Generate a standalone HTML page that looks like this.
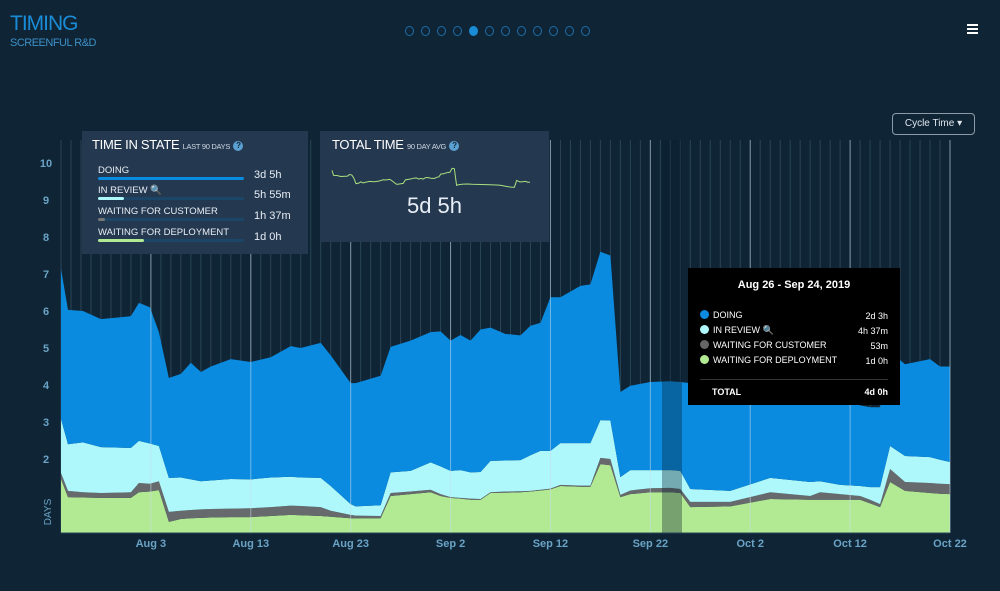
<!DOCTYPE html>
<html><head><meta charset="utf-8">
<style>
body{margin:0;width:1000px;height:591px;background:#0f2535;font-family:"Liberation Sans",sans-serif;overflow:hidden;position:relative}
.abs{position:absolute}
.panel{position:absolute;background:#243850;color:#fff}
.ttl{font-size:13px;letter-spacing:-0.3px}
.sub{font-size:7.5px;color:#cfd8e3}
.q{display:inline-block;width:10px;height:10px;border-radius:50%;background:#5aa0d0;color:#0f2535;font-size:8px;text-align:center;line-height:10px;font-weight:bold;vertical-align:1px}
.row{position:absolute;left:16px;font-size:9.5px;color:#e8eef5}
.val{position:absolute;left:172px;font-size:11px;color:#e8eef5}
.track{position:absolute;left:16px;width:146px;height:3px;background:#1c4668;border-radius:2px}
.tt{position:absolute;background:#000;color:#fff}
.ti{position:absolute;left:12px;font-size:9px}
.tv{position:absolute;right:12px;font-size:9px}
.dot{display:inline-block;width:9px;height:9px;border-radius:50%;margin-right:4px;vertical-align:-1px}
</style></head><body>
<div class="abs" style="left:10px;top:12px;font-size:21px;color:#1a8bd6;letter-spacing:-1px">TIMING</div>
<div class="abs" style="left:10px;top:37px;font-size:11px;color:#3d90c8;letter-spacing:-0.5px">SCREENFUL R&amp;D</div>
<div class="abs" style="left:405px;top:26px;height:12px;width:190px" id="dots"></div>
<div class="abs" style="left:967px;top:24px;width:11px">
<div style="height:2px;background:#fff;margin-bottom:2px"></div><div style="height:2px;background:#fff;margin-bottom:2px"></div><div style="height:2px;background:#fff"></div></div>
<div class="abs" style="left:892px;top:113px;width:81px;height:20px;border:1px solid #8a9aa8;border-radius:4px;color:#e0e6ee;font-size:10px;line-height:20px;text-align:center">Cycle Time ▾</div>

<svg class="abs" style="left:0;top:0" width="1000" height="591" id="chart"></svg>

<div class="panel" style="left:82px;top:131px;width:226px;height:123px">
<div class="abs ttl" style="left:10px;top:6px">TIME IN STATE <span class="sub">LAST 90 DAYS</span> <span class="q">?</span></div>
<div class="row" style="top:34px">DOING</div><div class="val" style="top:38px">3d 5h</div>
<div class="track" style="top:46px"><div style="width:146px;height:3px;background:#0a8be0;border-radius:2px"></div></div>
<div class="row" style="top:54px">IN REVIEW 🔍</div><div class="val" style="top:58px">5h 55m</div>
<div class="track" style="top:66px"><div style="width:26px;height:3px;background:#aef8fb;border-radius:2px"></div></div>
<div class="row" style="top:75px">WAITING FOR CUSTOMER</div><div class="val" style="top:79px">1h 37m</div>
<div class="track" style="top:87px"><div style="width:7px;height:3px;background:#777;border-radius:2px"></div></div>
<div class="row" style="top:96px">WAITING FOR DEPLOYMENT</div><div class="val" style="top:100px">1d 0h</div>
<div class="track" style="top:108px"><div style="width:46px;height:3px;background:#b2ea94;border-radius:2px"></div></div>
</div>
<div class="panel" style="left:320px;top:131px;width:229px;height:111px">
<div class="abs ttl" style="left:12px;top:6px">TOTAL TIME <span class="sub">90 DAY AVG</span> <span class="q">?</span></div>
<svg class="abs" style="left:0;top:0" width="229" height="70" id="spark"></svg>
<div class="abs" style="left:0;width:229px;text-align:center;top:62px;font-size:22px;color:#e8eef5">5d 5h</div>
</div>

<div class="tt" style="left:688px;top:268px;width:212px;height:137px">
<div class="abs" style="left:0;width:212px;text-align:center;top:11px;font-size:11px;font-weight:bold">Aug 26 - Sep 24, 2019</div>
<div class="ti" style="top:42px"><span class="dot" style="background:#0a8be0"></span>DOING</div><div class="tv" style="top:43px">2d 3h</div>
<div class="ti" style="top:57px"><span class="dot" style="background:#aef8fb"></span>IN REVIEW 🔍</div><div class="tv" style="top:58px">4h 37m</div>
<div class="ti" style="top:72px"><span class="dot" style="background:#666"></span>WAITING FOR CUSTOMER</div><div class="tv" style="top:73px">53m</div>
<div class="ti" style="top:87px"><span class="dot" style="background:#b2ea94"></span>WAITING FOR DEPLOYMENT</div><div class="tv" style="top:88px">1d 0h</div>
<div class="abs" style="left:12px;right:12px;top:111px;height:1px;background:#333"></div>
<div class="ti" style="top:119px;left:24px;font-weight:bold">TOTAL</div><div class="tv" style="top:119px;font-weight:bold">4d 0h</div>
</div>

<script>
const days=[0,0.7,2.2,4,7,7.8,8.9,9.8,10.8,12,13,14,15,17,19,21,23,24,26,27,29,29.5,32,33,35,37,38,39,40,41,42,43,44.5,46,47,48,49,50,52,53,54,55,56,57,59,61,62,63,67,71,75,76,78,80,81,82,83,84.5,87,88,89];
const deployment=[1.46,0.97,0.96,0.95,0.95,1.1,1.12,1.16,0.3,0.38,0.4,0.41,0.42,0.43,0.43,0.46,0.49,0.48,0.46,0.44,0.4,0.4,0.4,1.0,1.05,1.1,1.0,0.95,0.93,0.9,0.9,1.08,1.09,1.1,1.12,1.15,1.18,1.27,1.25,1.25,1.86,1.83,0.97,1.05,1.1,1.1,1.08,0.7,0.72,0.92,0.9,0.9,0.9,0.9,0.8,0.7,1.38,1.14,1.08,1.06,1.05];
const customer=[0.16,0.17,0.14,0.13,0.15,0.25,0.21,0.24,0.27,0.22,0.22,0.23,0.23,0.23,0.24,0.24,0.25,0.25,0.24,0.16,0.09,0.07,0.06,0.08,0.07,0.07,0.05,0.02,0.02,0.03,0.02,0.02,0.03,0.03,0.02,0.02,0.02,0.03,0.03,0.03,0.17,0.17,0.06,0.1,0.11,0.12,0.11,0.14,0.12,0.18,0.1,0.2,0.15,0.1,0.1,0.08,0.35,0.24,0.27,0.27,0.27];
const review=[1.46,1.26,1.35,1.24,1.2,1.14,1.09,0.95,0.92,0.9,0.83,0.76,0.77,0.8,0.78,0.8,0.78,0.77,0.79,0.67,0.29,0.25,0.29,0.56,0.56,0.74,0.75,0.71,0.75,0.71,0.73,0.85,0.84,0.84,0.96,1.05,1.02,1.13,1.15,1.15,1.02,1.04,0.48,0.55,0.49,0.48,0.49,0.35,0.3,0.39,0.38,0.3,0.25,0.27,0.34,0.46,0.62,0.7,0.7,0.65,0.6];
const doing=[4.06,3.63,3.55,3.46,3.56,3.73,3.68,3.08,2.7,2.8,3.15,2.95,3.08,3.24,3.17,3.25,3.53,3.5,3.65,3.53,3.27,3.33,3.5,3.39,3.52,3.52,3.65,3.52,3.65,3.56,3.85,3.6,3.42,3.37,3.5,3.46,4.15,3.94,4.25,4.29,4.55,4.46,2.3,2.28,2.38,2.4,2.4,2.86,2.86,2.46,2.47,2.4,2.3,2.18,2.16,2.16,2.55,2.48,2.65,2.52,2.58];
const yTicks=[2,3,4,5,6,7,8,9,10];
const xTickDays=[9,19,29,39,49,59,69,79,89];
const xTickLabels=['Aug 3','Aug 13','Aug 23','Sep 2','Sep 12','Sep 22','Oct 2','Oct 12','Oct 22'];

const NS='http://www.w3.org/2000/svg';
const svg=document.getElementById('chart');
const X0=61,X1=950,Y0=533,PXU=37;
const xs=d=>X0+d*(X1-X0)/89;
const ys=v=>Y0-v*PXU;
function mk(tag,attrs,parent){const e=document.createElementNS(NS,tag);for(const k in attrs)e.setAttribute(k,attrs[k]);(parent||svg).appendChild(e);return e;}

// faint daily grid
for(let d=0;d<=89;d++){
  const l=mk('line',{x1:xs(d),x2:xs(d),y1:140,y2:Y0,stroke:'#2a4456','stroke-width':1});
  
  
}
// stacks
const series=[['deployment-area',deployment,'#b2ea94'],['customer-area',customer,'#666a6c'],['review-area',review,'#aef8fb'],['doing-area',doing,'#0a8be0']];
let base=days.map(()=>0);
for(const [name,vals,col] of series){
  const top=base.map((b,i)=>b+vals[i]);
  let p='M'+days.map((d,i)=>xs(d)+','+ys(top[i])).join('L');
  for(let i=days.length-1;i>=0;i--)p+='L'+xs(days[i])+','+ys(base[i]);
  const a=mk('path',{d:p+'Z',fill:col});
  
  
  base=top;
}
// tick gridlines on top
xTickDays.forEach((d,i)=>{
  const l=mk('line',{x1:xs(d),x2:xs(d),y1:140,y2:Y0,stroke:'rgba(200,220,235,0.55)','stroke-width':1});
  
  
  const t=mk('text',{x:xs(d),y:Y0+14,'text-anchor':'middle','font-size':11,fill:'#6aa3c6','font-weight':'bold'});
  t.textContent=xTickLabels[i];
  
  
});
yTicks.forEach(v=>{
  const t=mk('text',{x:46,y:ys(v)+4,'text-anchor':'middle','font-size':11,fill:'#6aa3c6','font-weight':'bold'});
  t.textContent=v;
  
  
});
const yt=mk('text',{x:0,y:0,transform:'translate(51,512) rotate(-90)','text-anchor':'middle','font-size':10,fill:'#6aa3c6'});
yt.textContent='DAYS';


// highlight band
const hb=mk('rect',{x:662,y:140,width:20,height:Y0-140,fill:'rgba(10,30,45,0.35)'});


const bl=mk('line',{x1:X0,x2:X1,y1:Y0,y2:Y0,stroke:'#2a4456'});



// sparkline of totals
const sp=document.getElementById('spark');
const tot=days.map((d,i)=>deployment[i]+customer[i]+review[i]+doing[i]);
const sx=d=>12+d*(210-12)/89, sy=v=>58-(v-3)*4.5;
const pl=document.createElementNS(NS,'polyline');
pl.setAttribute('points',days.map((d,i)=>sx(d)+','+sy(tot[i])).join(' '));
pl.setAttribute('fill','none');pl.setAttribute('stroke','#a9e07e');pl.setAttribute('stroke-width','1');


sp.appendChild(pl);

// page dots
const dots=document.getElementById('dots');
for(let i=0;i<12;i++){
  const s=document.createElement('span');
  s.style.cssText='position:absolute;top:0;left:'+(i*16)+'px;width:9px;height:10px;border-radius:50%;box-sizing:border-box;border:1px solid #1d6ea8;'+(i===4?'background:#1a8bd6;border-color:#1a8bd6':'');
  
  
  dots.appendChild(s);
}
</script>
</body></html>
